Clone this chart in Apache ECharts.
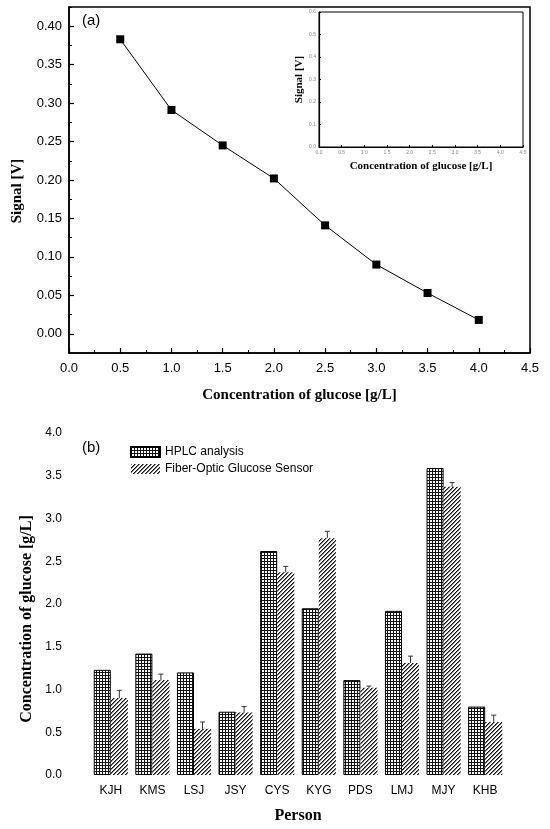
<!DOCTYPE html>
<html><head><meta charset="utf-8">
<script src="https://cdn.jsdelivr.net/npm/echarts@6/dist/echarts.min.js"></script>
<style>html,body{margin:0;padding:0;background:#fff}#c{width:550px;height:829px}</style>
</head><body><div id="c"></div>
<script>
// ---- data: panel (a) calibration ----
const concX = [0.5, 1.0, 1.5, 2.0, 2.5, 3.0, 3.5, 4.0];
const signalV = [0.383, 0.291, 0.245, 0.202, 0.141, 0.090, 0.053, 0.018];
const yTicksA = [0, 0.05, 0.10, 0.15, 0.20, 0.25, 0.30, 0.35, 0.40];
const yMinorA = [-0.025, 0.025, 0.075, 0.125, 0.175, 0.225, 0.275, 0.325, 0.375, 0.425];
// ---- data: panel (b) comparison ----
const persons = ['KJH', 'KMS', 'LSJ', 'JSY', 'CYS', 'KYG', 'PDS', 'LMJ', 'MJY', 'KHB'];
const hplc = [1.23, 1.42, 1.20, 0.74, 2.62, 1.95, 1.11, 1.92, 3.59, 0.80];
const fiber = [0.90, 1.11, 0.54, 0.73, 2.37, 2.77, 1.02, 1.31, 3.37, 0.62];
const fiberErr = [0.09, 0.07, 0.08, 0.07, 0.07, 0.08, 0.02, 0.08, 0.05, 0.08];

const SANS = 'Liberation Sans';
const SERIF = 'Liberation Serif';

function gridPattern() {
  const c = document.createElement('canvas'); c.width = 3; c.height = 3;
  const g = c.getContext('2d');
  g.fillStyle = '#fff'; g.fillRect(0, 0, 3, 3);
  g.fillStyle = '#111'; g.fillRect(0, 0, 3, 1); g.fillRect(0, 0, 1, 3);
  return c;
}
function hatchPattern() {
  const c = document.createElement('canvas'); c.width = 4; c.height = 4;
  const g = c.getContext('2d');
  g.fillStyle = '#fff'; g.fillRect(0, 0, 4, 4);
  g.fillStyle = '#111';
  for (let x = 0; x < 4; x++) g.fillRect(x, 3 - x, 1, 1);
  g.fillStyle = '#777';
  for (let x = 0; x < 4; x++) g.fillRect(x, (4 - x) % 4, 1, 1);
  return c;
}

const chart = echarts.init(document.getElementById('c'), null, {renderer: 'canvas'});
const nameStyle = (size) => ({fontFamily: SERIF, fontWeight: 'bold', fontSize: size, color: '#000'});

chart.setOption({
  animation: false,
  backgroundColor: '#fff',
  grid: [
    {left: 69, right: 20, top: 7, bottom: 476, show: true, borderColor: '#000', borderWidth: 1.5, backgroundColor: 'transparent'},
    {left: 319, top: 12, width: 204, height: 135, show: true, borderColor: '#000', borderWidth: 1, backgroundColor: 'transparent'},
    {left: 90, right: 44, top: 433, bottom: 54}
  ],
  graphic: [
    {type: 'text', left: 82, top: 13, style: {text: '(a)', font: '15px "Liberation Sans"', fill: '#000'}},
    {type: 'text', left: 82, top: 440, style: {text: '(b)', font: '15px "Liberation Sans"', fill: '#000'}}
  ],
  legend: {
    data: ['HPLC analysis', 'Fiber-Optic Glucose Sensor'],
    orient: 'vertical', left: 125, top: 441,
    itemWidth: 29, itemHeight: 10, itemGap: 5, icon: 'rect',
    textStyle: {fontFamily: SANS, fontSize: 12, color: '#000'}
  },
  xAxis: [
    {
      gridIndex: 0, type: 'value', min: 0, max: 4.5, interval: 0.5, position: 'bottom',
      axisLine: {onZero: false, lineStyle: {color: '#000', width: 1.5}},
      axisTick: {inside: true, length: 5, lineStyle: {color: '#000', width: 1.2}},
      minorTick: {show: true, splitNumber: 2, length: 3, lineStyle: {color: '#000', width: 1}},
      axisLabel: {fontFamily: SANS, fontSize: 13, color: '#000', margin: 9, formatter: v => v.toFixed(1)},
      splitLine: {show: false}, minorSplitLine: {show: false},
      name: 'Concentration of glucose [g/L]', nameLocation: 'middle', nameGap: 35,
      nameTextStyle: nameStyle(15)
    },
    {
      gridIndex: 1, type: 'value', min: 0, max: 4.5, interval: 0.5, position: 'bottom',
      axisLine: {onZero: false, lineStyle: {color: '#000', width: 1.2}},
      axisTick: {inside: true, length: 2, lineStyle: {color: '#000'}},
      axisLabel: {fontFamily: SANS, fontSize: 5, color: '#888', margin: 3, formatter: v => v.toFixed(1)},
      splitLine: {show: false},
      name: 'Concentration of glucose [g/L]', nameLocation: 'middle', nameGap: 14,
      nameTextStyle: nameStyle(11)
    },
    {
      gridIndex: 2, type: 'category', data: persons, position: 'bottom',
      axisLine: {show: false, onZero: false}, axisTick: {show: false},
      axisLabel: {fontFamily: SANS, fontSize: 12, color: '#000', margin: 10},
      name: 'Person', nameLocation: 'middle', nameGap: 33,
      nameTextStyle: nameStyle(16)
    }
  ],
  yAxis: [
    {
      gridIndex: 0, type: 'value', min: -0.025, max: 0.425, position: 'left',
      axisLine: {onZero: false, lineStyle: {color: '#000', width: 1.5}},
      axisTick: {inside: true, length: 5, customValues: yTicksA, lineStyle: {color: '#000', width: 1.2}},
      axisLabel: {fontFamily: SANS, fontSize: 13, color: '#000', margin: 7, customValues: yTicksA, formatter: v => v.toFixed(2)},
      splitLine: {show: false},
      name: 'Signal [V]', nameLocation: 'middle', nameGap: 44,
      nameTextStyle: Object.assign(nameStyle(15), {padding: [0, 22, 0, 0]})
    },
    {
      gridIndex: 0, type: 'value', min: -0.025, max: 0.425, position: 'left', offset: 0,
      axisLine: {show: false, onZero: false},
      axisTick: {inside: true, length: 3, customValues: yMinorA, lineStyle: {color: '#000', width: 1}},
      axisLabel: {show: false, customValues: yMinorA},
      splitLine: {show: false}
    },
    {
      gridIndex: 1, type: 'value', min: 0, max: 0.6, interval: 0.1, position: 'left',
      axisLine: {onZero: false, lineStyle: {color: '#000', width: 1.2}},
      axisTick: {inside: true, length: 2, lineStyle: {color: '#000'}},
      axisLabel: {fontFamily: SANS, fontSize: 5, color: '#888', margin: 3, formatter: v => v.toFixed(1)},
      splitLine: {show: false},
      name: 'Signal [V]', nameLocation: 'middle', nameGap: 12,
      nameTextStyle: nameStyle(11)
    },
    {
      gridIndex: 2, type: 'value', min: 0, max: 4, interval: 0.5, position: 'left',
      axisLine: {show: false}, axisTick: {show: false}, splitLine: {show: false},
      axisLabel: {fontFamily: SANS, fontSize: 12, color: '#000', margin: 28, formatter: v => v.toFixed(1)},
      name: 'Concentration of glucose [g/L]', nameLocation: 'middle', nameGap: 55,
      nameTextStyle: Object.assign(nameStyle(16), {padding: [0, 30, 0, 0]})
    }
  ],
  series: [
    {
      type: 'line', xAxisIndex: 0, yAxisIndex: 0,
      data: concX.map((x, i) => [x, signalV[i]]),
      symbol: 'rect', symbolSize: 8,
      itemStyle: {color: '#000'},
      lineStyle: {color: '#000', width: 1}
    },
    {
      name: 'HPLC analysis', type: 'bar', xAxisIndex: 2, yAxisIndex: 3,
      data: hplc, barGap: '0%', barCategoryGap: '18%',
      itemStyle: {color: {image: gridPattern(), repeat: 'repeat'}, borderColor: '#000', borderWidth: 1}
    },
    {
      name: 'Fiber-Optic Glucose Sensor', type: 'bar', xAxisIndex: 2, yAxisIndex: 3,
      data: fiber, barGap: '0%', barCategoryGap: '18%',
      itemStyle: {color: {image: hatchPattern(), repeat: 'repeat'}}
    },
    {
      type: 'custom', xAxisIndex: 2, yAxisIndex: 3, silent: true,
      data: persons.map((p, i) => [i, fiber[i], fiberErr[i]]),
      renderItem: function (params, api) {
        const i = api.value(0), v = api.value(1), e = api.value(2);
        const base = api.coord([i, v]);
        const top = api.coord([i, v + e]);
        const band = api.size([1, 0])[0];
        const x = base[0] + band * 0.205;
        return {type: 'group', children: [
          {type: 'line', shape: {x1: x, y1: base[1], x2: x, y2: top[1]}, style: {stroke: '#333', lineWidth: 1}},
          {type: 'line', shape: {x1: x - 2.5, y1: top[1], x2: x + 2.5, y2: top[1]}, style: {stroke: '#333', lineWidth: 1}}
        ]};
      },
      z: 5
    }
  ]
});
</script>
</body></html>
